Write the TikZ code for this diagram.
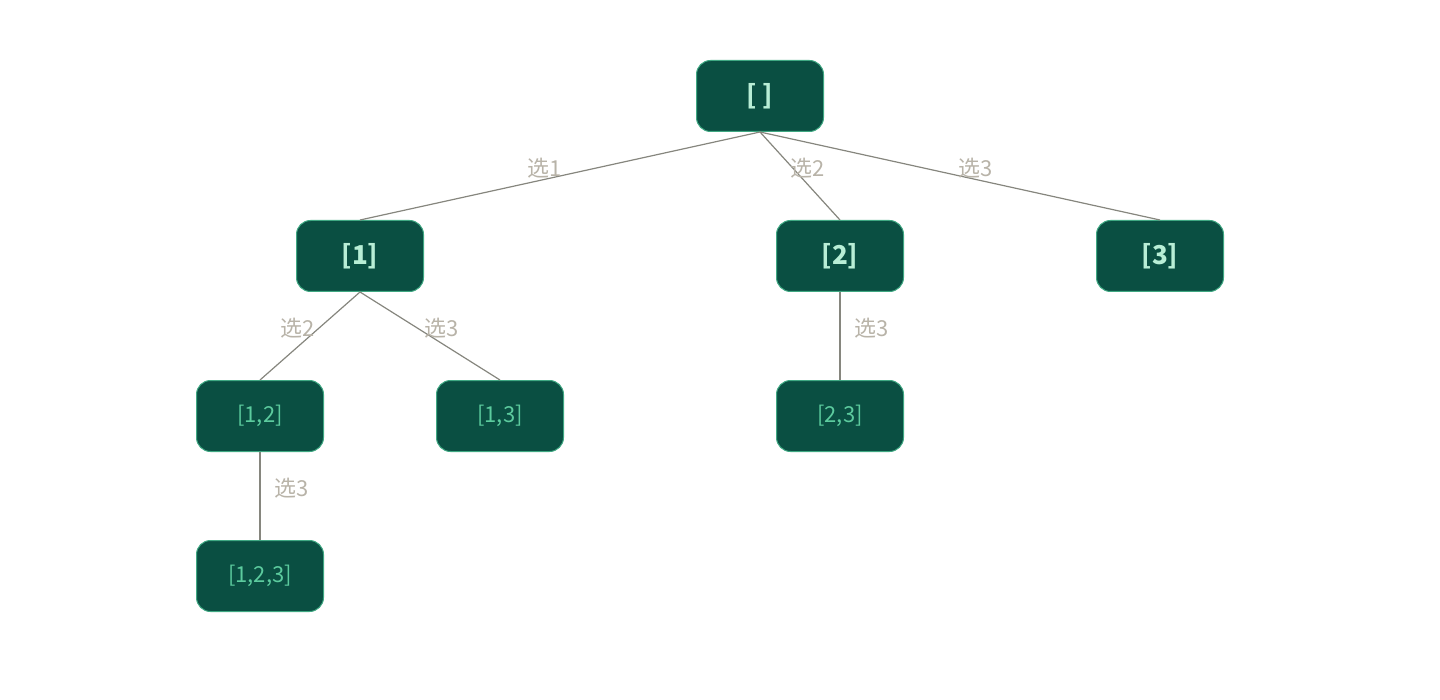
\documentclass[tikz,border=0pt]{standalone}
\usepackage{fontspec}
\setmainfont{Noto Sans CJK SC}
\definecolor{nfill}{HTML}{0A4F42}
\definecolor{nborder}{HTML}{3FA882}
\definecolor{tone}{HTML}{B8EED6}
\definecolor{ttwo}{HTML}{5CCB9E}
\definecolor{lab}{HTML}{B8B3A8}
\definecolor{edge}{HTML}{86867E}
\begin{document}
\begin{tikzpicture}[x=0.5pt,y=-0.5pt,
  box/.style={draw=nborder,line width=0.5pt,fill=nfill,rounded corners=7pt,minimum width=63.5pt,minimum height=35.5pt,inner sep=0pt},
  b1/.style={box,text=tone,font=\fontsize{13}{13}\selectfont\bfseries},
  b2/.style={box,text=ttwo,font=\fontsize{11}{11}\selectfont},
  e/.style={draw=edge,line width=0.6pt},
  l/.style={text=lab,font=\fontsize{11}{11}\selectfont,inner sep=0pt}]
\useasboundingbox (0,0) rectangle (1440,700);
\node[b1] (r) at (760,96) {[ ]};
\node[b1] (a) at (360,256) {[1]};
\node[b1] (b) at (840,256) {[2]};
\node[b1] (c) at (1160,256) {[3]};
\node[b2] (ab) at (260,416) {[1,2]};
\node[b2] (ac) at (500,416) {[1,3]};
\node[b2] (bc) at (840,416) {[2,3]};
\node[b2] (abc) at (260,576) {[1,2,3]};
\draw[e] (r.south) -- (a.north);
\draw[e] (r.south) -- (b.north);
\draw[e] (r.south) -- (c.north);
\draw[e] (a.south) -- (ab.north);
\draw[e] (a.south) -- (ac.north);
\draw[e] (b.south) -- (bc.north);
\draw[e] (ab.south) -- (abc.north);
\node[l] (l1) at (545,168) {选1};
\node[l] (l2) at (808,168) {选2};
\node[l] (l3) at (976,168) {选3};
\node[l] (l4) at (298,328) {选2};
\node[l] (l5) at (442,328) {选3};
\node[l] (l6) at (872,328) {选3};
\node[l] (l7) at (292,488) {选3};
\end{tikzpicture}
\end{document}
